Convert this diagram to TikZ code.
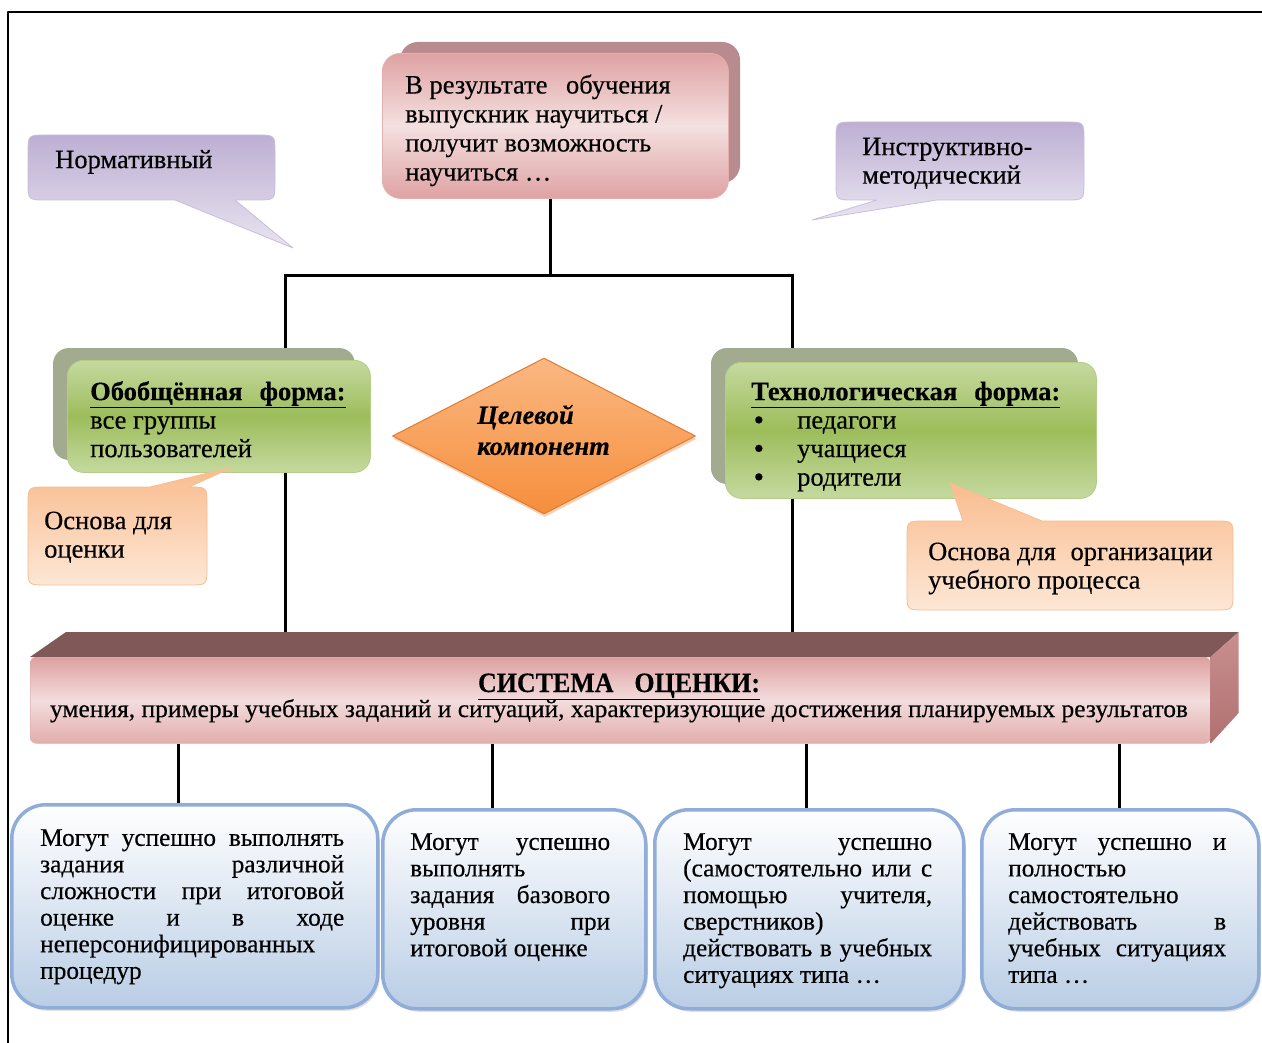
\documentclass[tikz,border=0pt]{standalone}
\usepackage{fontspec}
\setmainfont{Liberation Serif}[FakeBold=0.35]
\usepackage{graphicx}
\usetikzlibrary{shapes.geometric,shadows}
\pgfdeclarelayer{bg}
\pgfsetlayers{bg,main}
\definecolor{pinkD}{HTML}{DFA2A3}
\definecolor{pinkL}{HTML}{F4E0E0}
\definecolor{pinkE}{HTML}{E3AFAF}
\definecolor{pinkBack}{HTML}{B88B8E}
\definecolor{lavD}{HTML}{BDAFD3}
\definecolor{lavL}{HTML}{E9E4F0}
\definecolor{lavE}{HTML}{C9BEDB}
\definecolor{gL}{HTML}{C5D99F}
\definecolor{gM}{HTML}{9DBD5B}
\definecolor{gE}{HTML}{B3CD85}
\definecolor{gBack}{HTML}{A2AB90}
\definecolor{orD}{HTML}{F9BC8E}
\definecolor{orL}{HTML}{FDE7D6}
\definecolor{orE}{HTML}{F6BD93}
\definecolor{diaL}{HTML}{FAB882}
\definecolor{diaD}{HTML}{F68E3C}
\definecolor{diaE}{HTML}{E2792C}
\definecolor{barTop}{HTML}{805858}
\definecolor{barSideL}{HTML}{C98F8F}
\definecolor{barSideD}{HTML}{B07070}
\definecolor{barD}{HTML}{DEA0A0}
\definecolor{barL}{HTML}{F3DDDD}
\definecolor{bBorder}{HTML}{8FADD8}
\definecolor{bFill}{HTML}{B9CDE5}
\newcommand{\jst}[2]{\makebox[#1pt][s]{#2}}
\begin{document}
\begin{tikzpicture}[x=1pt,y=-1pt,line join=round,
  conn/.style={line width=3,black},
  txt/.style={inner sep=0,align=left,anchor=north west,font=\fontsize{26.5}{28.5}\selectfont},
  btxt/.style={inner sep=0,align=left,anchor=north west,font=\fontsize{25.3}{26.6}\selectfont},
  pinkfront/.style={rounded corners=18,top color=pinkD,bottom color=pinkD,middle color=pinkL,draw=pinkE,line width=0.8,inner sep=0,anchor=north west},
  lav/.style={top color=lavD,bottom color=lavL,draw=lavE,line width=0.8},
  orng/.style={top color=orD,bottom color=orL,draw=orE,line width=0.8},
  greenfront/.style={rounded corners=16,top color=gL,bottom color=gL,middle color=gM,draw=gE,line width=0.8,inner sep=0,anchor=north west},
  bluebox/.style={rounded corners=34,draw=bBorder,line width=3.5,top color=white,bottom color=bFill,inner sep=0,anchor=north west,
     drop shadow={shadow xshift=2pt,shadow yshift=-3pt,opacity=0.25}},
  barfront/.style={rounded corners=6,top color=barD,bottom color=barD!80!pinkL,middle color=barL,draw=pinkE,line width=0.6,inner sep=0,anchor=north west}
]
\useasboundingbox (0,0) rectangle (1262,1043);
% frame
\draw[line width=2] (8,1043) -- (8,12) -- (1262,12);

% top result box
\fill[pinkBack,rounded corners=18] (400,42) rectangle (740,183);
\node[pinkfront,minimum width=346,minimum height=145] (res) at (382,53) {};
\node[txt,font=\fontsize{26.5}{29}\selectfont] (resT) at (405,73) {\strut В результате\hspace{0.45em} обучения\\выпускник научиться /\\получит возможность\\научиться …};

% Нормативный callout
\path[lav] (46,135) -- (257,135) .. controls (275,135) .. (275,153) -- (275,182) .. controls (275,200) .. (257,200) -- (235,200) -- (293,248) -- (175,200) -- (46,200) .. controls (28,200) .. (28,182) -- (28,153) .. controls (28,135) .. (46,135) -- cycle;
\node[txt] (norm) at (55,148) {\strut Нормативный};

% Инструктивно-методический callout
\path[lav] (854,122) -- (1066,122) .. controls (1084,122) .. (1084,140) -- (1084,182) .. controls (1084,200) .. (1066,200) -- (937,200) -- (812,220) -- (877,200) -- (854,200) .. controls (836,200) .. (836,182) -- (836,140) .. controls (836,122) .. (854,122) -- cycle;
\node[txt] (instr) at (862,135) {\strut Инструктивно-\\методический};

% green left
\fill[gBack,rounded corners=16] (53,348) rectangle (355,460);
\node[greenfront,minimum width=303,minimum height=112] (gen) at (67,360) {};
\node[txt] (genT) at (90,380) {\strut\textbf{\underline{Обобщённая\hspace{0.4em} форма:}}\\все группы\\пользователей};

% green right
\fill[gBack,rounded corners=16] (711,348) rectangle (1078,484);
\node[greenfront,minimum width=371,minimum height=136] (tech) at (725,362) {};
\node[txt] (techT) at (751,380) {\strut\textbf{\underline{Технологическая\hspace{0.4em} форма:}}\\
  \hspace*{3pt}\makebox[43pt][l]{\textbf{•}}педагоги\\
  \hspace*{3pt}\makebox[43pt][l]{\textbf{•}}учащиеся\\
  \hspace*{3pt}\makebox[43pt][l]{\textbf{•}}родители};

% diamond
\node[diamond,minimum width=303,minimum height=156,inner sep=0,top color=diaL,bottom color=diaD,draw=diaE,line width=1,
  drop shadow={shadow xshift=1pt,shadow yshift=-3pt,opacity=0.35,fill=diaE}] (goal) at (544,436) {};
\node[txt,font=\fontsize{26.5}{31}\selectfont\bfseries\itshape] (goalT) at (477,402) {\strut Целевой\\компонент};

% orange callout left
\path[orng] (46,487) -- (150,487) -- (233,467) -- (189,487) .. controls (207,487) .. (207,505) -- (207,567) .. controls (207,585) .. (189,585) -- (46,585) .. controls (28,585) .. (28,567) -- (28,505) .. controls (28,487) .. (46,487) -- cycle;
\node[txt] (baseL) at (44,509) {\strut Основа для\\оценки};

% orange callout right
\path[orng] (925,521) -- (963,521) -- (950,483) -- (1042,521) -- (1215,521) .. controls (1233,521) .. (1233,539) -- (1233,592) .. controls (1233,610) .. (1215,610) -- (925,610) .. controls (907,610) .. (907,592) -- (907,539) .. controls (907,521) .. (925,521) -- cycle;
\node[txt] (baseR) at (928,540) {\strut Основа для\hspace{0.3em} организации\\учебного процесса};

% system bar
\node[barfront,minimum width=1180,minimum height=86] (bar) at (30,657) {};
\fill[barTop] (bar.north west) -- ++(36,-25) -- ([xshift=28pt,yshift=25pt]bar.north east) -- (bar.north east) -- cycle;
\shade[top color=barSideL,bottom color=barSideD] (bar.north east) -- ++(28,-25) -- ++(0,81) -- (bar.south east) -- cycle;
\node[inner sep=0,anchor=base] (barT) at (619,692) {\resizebox{282pt}{\height}{\fontsize{28}{30}\selectfont\bfseries\underline{СИСТЕМА\hspace{0.55em} ОЦЕНКИ:}}};
\node[inner sep=0,anchor=base] (barS) at (619,717) {\resizebox{1138pt}{\height}{\fontsize{25}{28}\selectfont умения, примеры учебных заданий и ситуаций, характеризующие достижения планируемых результатов}};

% bottom boxes
\node[bluebox,minimum width=366,minimum height=203] (b1) at (10,803) {};
\node[bluebox,minimum width=263,minimum height=199] (b2) at (381,808) {};
\node[bluebox,minimum width=309,minimum height=199] (b3) at (653,808) {};
\node[bluebox,minimum width=277,minimum height=199] (b4) at (980,808) {};

\node[btxt] (t1) at (40,827) {\strut\jst{304}{Могут успешно выполнять}\\\jst{304}{задания различной}\\\jst{304}{сложности при итоговой}\\\jst{304}{оценке и в ходе}\\неперсонифицированных\\процедур};
\node[btxt] (t2) at (410,831) {\strut\jst{200}{Могут успешно}\\выполнять\\\jst{200}{задания базового}\\\jst{200}{уровня при}\\итоговой оценке};
\node[btxt] (t3) at (683,831) {\strut\jst{249}{Могут успешно}\\\jst{249}{(самостоятельно или с}\\\jst{249}{помощью учителя,}\\сверстников)\\\jst{249}{действовать в учебных}\\ситуациях типа …};
\node[btxt] (t4) at (1008,831) {\strut\jst{218}{Могут успешно и}\\полностью\\самостоятельно\\\jst{218}{действовать в}\\\jst{218}{учебных ситуациях}\\типа …};

% connectors
\begin{pgfonlayer}{bg}
\fill[white] (0,0) rectangle (1262,1043);
\coordinate (jT) at (550,276);
\coordinate (jL) at (285,276);
\coordinate (jR) at (792,276);
\draw[conn] (jT |- res.south) -- (jT);
\draw[conn,line cap=rect] (jL) -- (jR);
\draw[conn] (jL) -- (jL |- bar.north);
\draw[conn] (jR) -- (jR |- bar.north);
\coordinate (k1) at (178,780);
\coordinate (k2) at (492,780);
\coordinate (k3) at (806,780);
\coordinate (k4) at (1119,780);
\draw[conn] (k1 |- bar.south) -- (k1 |- b1.north);
\draw[conn] (k2 |- bar.south) -- (k2 |- b2.north);
\draw[conn] (k3 |- bar.south) -- (k3 |- b3.north);
\draw[conn] (k4 |- bar.south) -- (k4 |- b4.north);
\end{pgfonlayer}
\end{tikzpicture}
\end{document}
